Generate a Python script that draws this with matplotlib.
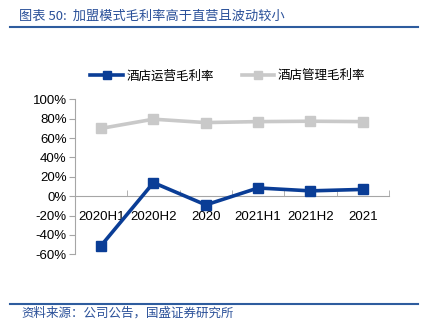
import numpy as np
import matplotlib.pyplot as plt
from matplotlib.lines import Line2D

plt.rcParams['font.family'] = ['Noto Sans CJK SC', 'DejaVu Sans']

periods = ['2020H1', '2020H2', '2020', '2021H1', '2021H2', '2021']
opMargin = [-51, 14, -9, 8.5, 5.5, 7]      # 酒店运营毛利率 (%)
mgmtMargin = [70, 79.5, 76, 77, 77.4, 77]  # 酒店管理毛利率 (%)

BLUE = '#0A3D96'
GREY = '#C9C9C9'
AXIS = '#A6A6A6'
NUMFONT = 'Liberation Sans'

fig = plt.figure(figsize=(4.30, 3.34), dpi=100)
ax = fig.add_axes([0.1744, 0.2386, 0.730, 0.464])

x = np.arange(len(periods))
ax.plot(x, opMargin, color=BLUE, lw=2.6, marker='s', ms=7, zorder=3)
ax.plot(x, mgmtMargin, color=GREY, lw=2.6, marker='s', ms=7, zorder=2)

ax.set_xlim(-0.5, len(periods) - 0.5)
ax.set_ylim(-60, 100)
ax.set_yticks(range(-60, 101, 20))
ax.set_yticklabels([f'{v}%' for v in range(-60, 101, 20)], fontsize=9.5,
                   family=NUMFONT)

# category axis sits on the 0% line
for s in ['top', 'right']:
    ax.spines[s].set_visible(False)
ax.spines['bottom'].set_position(('data', 0))
ax.spines['bottom'].set_color(AXIS)
ax.spines['left'].set_color(AXIS)
ax.set_xticks(x)
ax.set_xticklabels(periods, fontsize=9.5, family=NUMFONT)
ax.tick_params(axis='x', length=0, pad=11)
ax.set_xticks(np.arange(-0.5, len(periods), 1), minor=True)
ax.tick_params(axis='x', which='minor', direction='in', length=4, color=AXIS)
ax.tick_params(axis='y', length=4, color=AXIS, pad=2)
for lbl in ax.get_xticklabels():
    lbl.set_zorder(5)

# legend along the top
handles = [Line2D([], [], color=BLUE, lw=2.6, marker='s', ms=6),
           Line2D([], [], color=GREY, lw=2.6, marker='s', ms=6)]
fig.legend(handles, ['酒店运营毛利率', '酒店管理毛利率'], loc='center',
           bbox_to_anchor=(0.53, 0.773), ncol=2, frameon=False, fontsize=9,
           handlelength=2.6, handletextpad=0.3, columnspacing=2.2)

# header and footer
fig.text(0.045, 0.952, '图表 50:  加盟模式毛利率高于直营且波动较小', fontsize=9.5,
         color='#2A5099', va='center', ha='left')
fig.add_artist(Line2D([0.023, 0.972], [0.918, 0.918], color='#2E5C9E', lw=1.5))
fig.add_artist(Line2D([0.023, 0.972], [0.09, 0.09], color='#2E5C9E', lw=1.5))
fig.text(0.05, 0.062, '资料来源：公司公告，国盛证券研究所', fontsize=9,
         color='#2A5099', va='center', ha='left')

fig.savefig('out.png', dpi=100)
